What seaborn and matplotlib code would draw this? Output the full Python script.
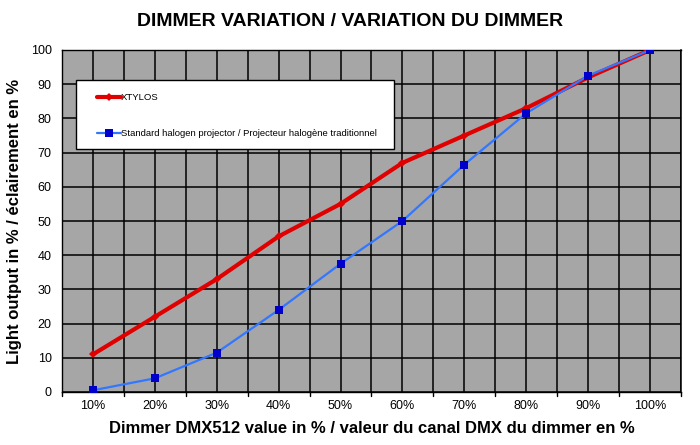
import matplotlib
matplotlib.use("Agg")
import matplotlib.pyplot as plt
import seaborn as sns
import pandas as pd
from matplotlib.patches import Rectangle
from matplotlib.ticker import MultipleLocator

dimmer_labels = ["10%", "20%", "30%", "40%", "50%", "60%", "70%", "80%", "90%", "100%"]
xtylos = [11, 22, 33, 45.5, 55, 67, 75, 83, 92, 100]
halogen = [0.5, 4, 11.5, 24, 37.5, 50, 66.5, 81.5, 92.5, 100]

series_names = ["XTYLOS", "Standard halogen projector / Projecteur halogène traditionnel"]

sns.set_style("white")
plt.rcParams['font.family'] = ['Liberation Sans', 'DejaVu Sans']
plt.rcParams.update({"text.color": "black", "axes.labelcolor": "black",
                     "xtick.color": "black", "ytick.color": "black"})

df = pd.DataFrame({
    "pos": list(range(len(dimmer_labels))) * 2,
    "value": xtylos + halogen,
    "series": [series_names[0]] * len(xtylos) + [series_names[1]] * len(halogen),
})

fig = plt.figure(figsize=(7, 4.45), dpi=100)
ax = fig.add_axes([62 / 700, 53 / 445, 619 / 700, 342 / 445])
ax.set_facecolor("#a6a6a6")

sns.lineplot(data=df[df.series == series_names[0]], x="pos", y="value", ax=ax,
             color="#e00000", linewidth=3, marker="D", markersize=4.5,
             markeredgewidth=0, label=series_names[0], zorder=3)
sns.lineplot(data=df[df.series == series_names[1]], x="pos", y="value", ax=ax,
             color="#3377ff", linewidth=1.6, marker="s", markersize=6,
             markerfacecolor="#0000cc", markeredgewidth=0, label=series_names[1], zorder=4)

ax.set_xlim(-0.5, len(dimmer_labels) - 0.5)
ax.set_ylim(0, 100)
ax.set_xticks(range(len(dimmer_labels)))
ax.set_xticklabels(dimmer_labels, fontsize=9)
ax.xaxis.set_minor_locator(MultipleLocator(0.5))
ax.yaxis.set_major_locator(MultipleLocator(10))
ax.tick_params(axis="x", which="major", length=0, pad=6)
ax.tick_params(axis="y", labelsize=9, length=4, width=1, color="black", direction="out")
ax.grid(True, which="both", axis="x", color="black", linewidth=1.1)
ax.grid(True, which="major", axis="y", color="black", linewidth=1.1)
ax.set_axisbelow(True)
# boundary tick marks below the axis
for b in range(len(dimmer_labels) + 1):
    ax.plot([b - 0.5, b - 0.5], [0, -1.3], color="black", linewidth=1, clip_on=False)
for s in ax.spines.values():
    s.set_color("black")
    s.set_linewidth(1)
ax.spines["right"].set_linewidth(1.1)

ax.set_xlabel("Dimmer DMX512 value in % / valeur du canal DMX du dimmer en %",
              fontsize=12, fontweight="bold", labelpad=6)
ax.set_ylabel("Light output in % / éclairement en %", fontsize=12,
              fontweight="bold", labelpad=6)
fig.suptitle("DIMMER VARIATION / VARIATION DU DIMMER", fontsize=14,
             fontweight="bold", y=0.97)

# legend box drawn separately, entries placed inside it
ax.add_patch(Rectangle((14 / 619, 1 - 99 / 342), 318 / 619, 69 / 342,
                       transform=ax.transAxes, facecolor="white",
                       edgecolor="black", linewidth=1, zorder=5))
leg = ax.legend(loc="upper left", bbox_to_anchor=(35 / 619, 1 - 43 / 342),
                fontsize=6.8, frameon=False, handlelength=2.55,
                handletextpad=0.0, labelspacing=2.85, borderpad=0,
                borderaxespad=0)
leg.set_zorder(6)

fig.savefig("out.png", dpi=100)
